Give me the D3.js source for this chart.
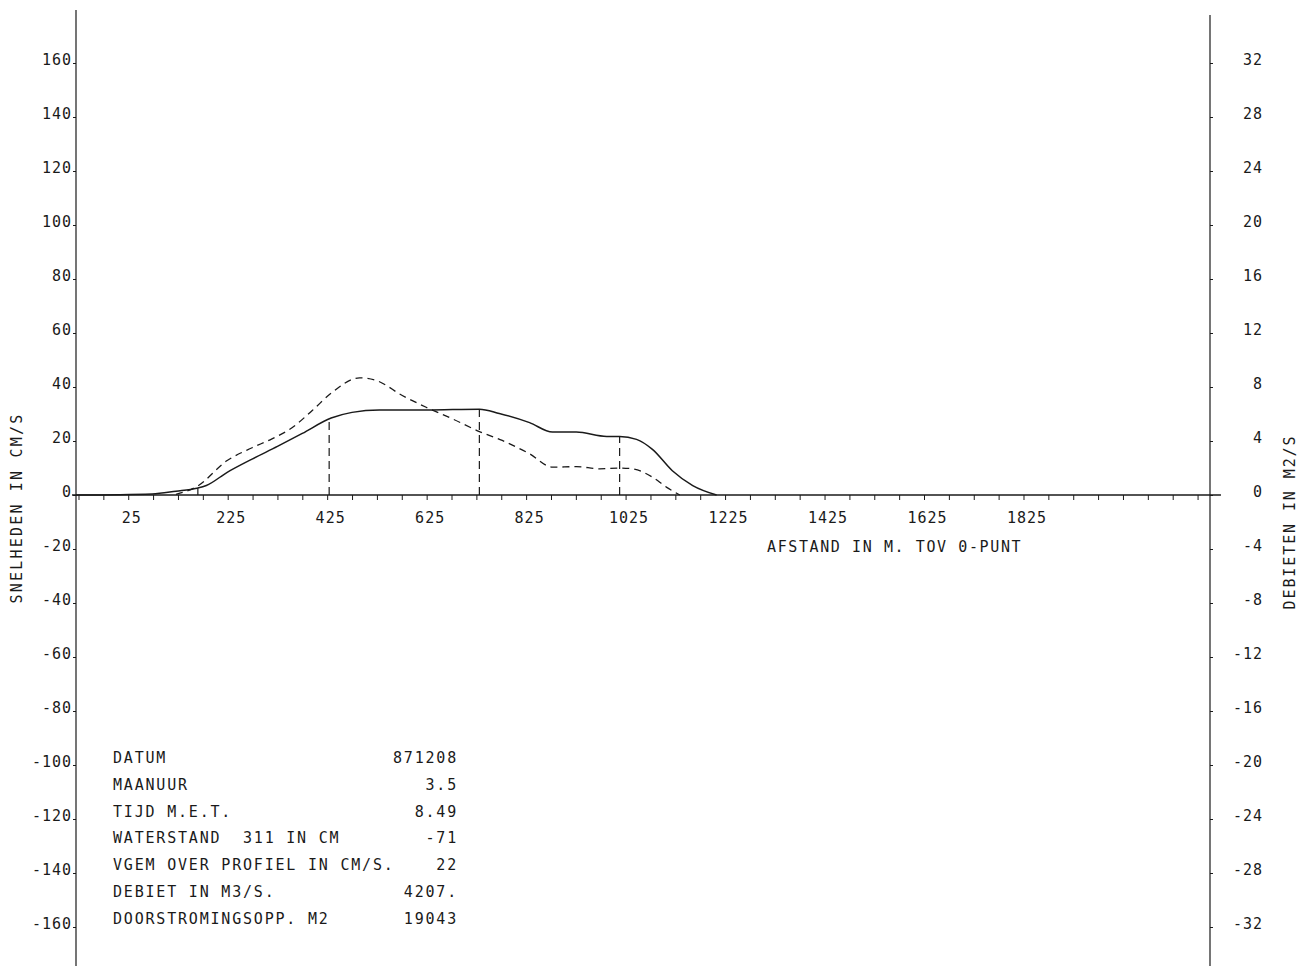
<!DOCTYPE html>
<html><head><meta charset="utf-8">
<script src="https://cdn.jsdelivr.net/npm/d3@7"></script>
<style>
body{margin:0;background:#fff}
text{font-family:"DejaVu Sans Mono",monospace;font-size:15px;fill:#1a1a1a;white-space:pre}
</style>
</head><body><svg id="c" width="1311" height="966"></svg>
<script>
// velocity profile (cm/s, left axis)
const velDistance = [-80, 73, 121, 163, 182, 224, 274, 325, 375, 433, 475, 530, 624, 731, 771, 832, 878, 926, 987, 1013, 1047, 1079, 1119, 1160, 1208];
const velocity    = [0, 0.4, 1.4, 2.5, 3.5, 8.4, 13.3, 18, 22.8, 28.5, 30.6, 31.5, 31.5, 31.8, 30.2, 26.8, 23.3, 23.3, 21.7, 21.7, 20.6, 16.9, 9, 3.5, 0];
// discharge per metre (m2/s, right axis)
const qDistance = [121, 163, 224, 274, 314, 355, 395, 435, 490, 524, 576, 624, 677, 731, 777, 832, 878, 926, 973, 1013, 1039, 1079, 1107, 1134];
const discharge = [0.05, 0.63, 2.55, 3.5, 4.16, 5.0, 6.26, 7.6, 8.68, 8.48, 7.37, 6.5, 5.64, 4.7, 4.04, 3.05, 2.06, 2.1, 1.94, 2.0, 1.94, 1.32, 0.58, 0];
// measuring verticals
const verticalPos = [165, 429, 731, 1013];
const verticalVel = [2.5, 28.5, 31.8, 21.7];

const xLabelTicks = [25, 225, 425, 625, 825, 1025, 1225, 1425, 1625, 1825];
const xMinorTicks = [-75,-25,25,75,125,175,225,275,325,375,425,475,525,575,625,675,725,775,825,875,925,975,1025,1075,1125,1175,1225,1275,1325,1375,1425,1475,1525,1575,1625,1675,1725,1775,1825,1875,1925,1975,2025,2075,2125,2175];
const leftTicks = [160,140,120,100,80,60,40,20,0,-20,-40,-60,-80,-100,-120,-140,-160];
const rightTicks = [32,28,24,20,16,12,8,4,0,-4,-8,-12,-16,-20,-24,-28,-32];

const infoLabels = ["DATUM","MAANUUR","TIJD M.E.T.","WATERSTAND  311 IN CM","VGEM OVER PROFIEL IN CM/S.","DEBIET IN M3/S.","DOORSTROMINGSOPP. M2"];
const infoValues = ["871208","3.5","8.49","-71","22","4207.","19043"];

const svg = d3.select("#c");
const x = d3.scaleLinear().domain([-80, 2200]).range([76, 1210]);
const yL = d3.scaleLinear().domain([-180, 180]).range([981, 9]);
const yR = d3.scaleLinear().domain([-36, 36]).range([981, 9]);
const ink = "#1a1a1a";

// axis lines
svg.append("line").attr("x1", x(-80)).attr("x2", x(-80)).attr("y1", 10).attr("y2", 966).attr("stroke", ink).attr("stroke-width", 1.2);
svg.append("line").attr("x1", x(2200)).attr("x2", x(2200)).attr("y1", 15).attr("y2", 966).attr("stroke", ink).attr("stroke-width", 1.2);
svg.append("line").attr("x1", x(-88)).attr("x2", x(2222)).attr("y1", yL(0)).attr("y2", yL(0)).attr("stroke", ink).attr("stroke-width", 1.3);

// left axis
const gL = svg.append("g").attr("transform", `translate(${x(-80)},0)`)
  .call(d3.axisLeft(yL).tickValues(leftTicks).tickSize(3).tickPadding(1).tickFormat(d => String(d)));
gL.select(".domain").remove();
gL.selectAll("line").attr("stroke", ink);
gL.selectAll("text").attr("dy", "0.1em").style("letter-spacing", "1px").attr("font-family", null).attr("font-size", null);

// right axis
const gR = svg.append("g").attr("transform", `translate(${x(2200)},0)`)
  .call(d3.axisRight(yR).tickValues(rightTicks).tickSize(3).tickFormat(d => String(d)));
gR.select(".domain").remove();
gR.selectAll("line").attr("stroke", ink);
gR.selectAll("text").attr("x", 53).attr("text-anchor", "end").attr("dy", "0.1em").style("letter-spacing", "1px").attr("font-family", null).attr("font-size", null);

// x axis
const gX = svg.append("g").attr("transform", `translate(0,${yL(0)})`)
  .call(d3.axisBottom(x).tickValues(xMinorTicks).tickSize(5).tickPadding(12)
    .tickFormat(d => xLabelTicks.includes(d) ? String(d) : ""));
gX.select(".domain").remove();
gX.selectAll("line").attr("stroke", ink);
gX.selectAll("text").attr("dx", "3px").style("letter-spacing", "1px").attr("font-family", null).attr("font-size", null);

// titles
svg.append("text").attr("transform", `translate(22,508) rotate(-90)`).attr("text-anchor", "middle")
  .style("letter-spacing", "2.2px").text("SNELHEDEN IN CM/S");
svg.append("text").attr("transform", `translate(1295,522) rotate(-90)`).attr("text-anchor", "middle")
  .style("letter-spacing", "1.9px").text("DEBIETEN IN M2/S");
svg.append("text").attr("x", 767).attr("y", 552).style("letter-spacing", "1.6px").text("AFSTAND IN M. TOV 0-PUNT");

// curves
const velData = velDistance.map((d, i) => [d, velocity[i]]);
const qData = qDistance.map((d, i) => [d, discharge[i]]);
svg.append("path").datum(velData)
  .attr("d", d3.line().x(d => x(d[0])).y(d => yL(d[1])).curve(d3.curveMonotoneX))
  .attr("fill", "none").attr("stroke", ink).attr("stroke-width", 1.5);
svg.append("path").datum(qData)
  .attr("d", d3.line().x(d => x(d[0])).y(d => yR(d[1])).curve(d3.curveMonotoneX))
  .attr("fill", "none").attr("stroke", ink).attr("stroke-width", 1.3).attr("stroke-dasharray", "7,5");

// verticals
svg.selectAll(".vert").data(verticalPos).join("line").attr("class", "vert")
  .attr("x1", d => x(d)).attr("x2", d => x(d))
  .attr("y1", yL(0)).attr("y2", (d, i) => yL(verticalVel[i]))
  .attr("stroke", ink).attr("stroke-width", 1.2).attr("stroke-dasharray", "8,5");

// info block
const info = svg.append("g");
infoLabels.forEach((t, i) => {
  info.append("text").attr("x", 113).attr("y", 763 + i * 26.8).style("letter-spacing", "1.8px").text(t);
  info.append("text").attr("x", 458).attr("y", 763 + i * 26.8).attr("text-anchor", "end").style("letter-spacing", "1.8px").text(infoValues[i]);
});
</script></body></html>
